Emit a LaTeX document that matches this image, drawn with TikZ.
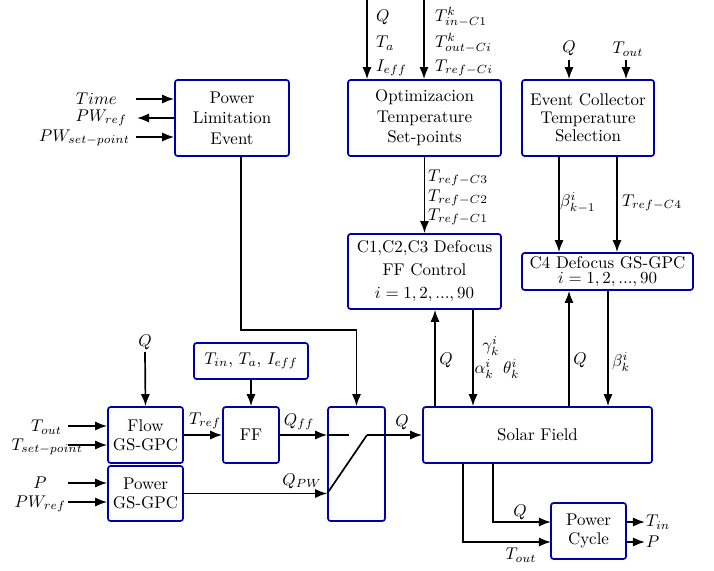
\documentclass[tikz,border=0pt]{standalone}
\usepackage{amsmath}
\usepackage{amssymb}
\usepackage{tikz}
\usetikzlibrary{arrows.meta, positioning}
\definecolor{boxblue}{RGB}{0,0,170}
\tikzstyle{arrow} = [line width=1pt, -{Latex[length=2.5mm, width=1.9mm]}]
\tikzstyle{line} = [line width=1pt]
\tikzstyle{block} = [draw=boxblue, line width=1pt, rounded corners=1.5pt, inner sep=0pt, align=center]
\tikzstyle{lbl} = [inner sep=0.5pt]
\tikzset{sz/.style 2 args={minimum width=#1*0.59pt, minimum height=#2*0.59pt}}

\begin{document}
\begin{tikzpicture}[x=0.59pt, y=-0.59pt]
    \useasboundingbox (0,0) rectangle (714,570);
    % blocks
    \node[block, sz={114}{76}] (ple) at (232,118) {Power\\Limitation\\Event};
    \node[block, sz={153}{76}] (opt) at (424.5,118) {Optimizacion\\Temperature\\Set-points};
    \node[block, sz={132}{76}] (evc) at (588,118) {Event Collector\\[-1.5pt]Temperature\\[-1.5pt]Selection};
    \node[block, sz={153}{75}] (cdf) at (424.5,271.5) {C1,C2,C3 Defocus\\[1.6pt]FF Control\\[1.6pt]$i=1,2,...,90$};
    \node[block, sz={171}{37}] (cfour) at (607.5,271.5) {C4 Defocus GS-GPC\\[-3pt]$i=1,2,...,90$};
    \node[block, sz={229}{56}] (solar) at (537.5,435) {Solar Field};
    \node[block, sz={75}{56}] (cycle) at (588.5,531) {Power\\[-1pt]Cycle};
    \node[block, sz={75}{56}] (flow) at (145.5,435) {Flow\\[-1pt]GS-GPC};
    \node[block, sz={75}{55}] (pgpc) at (145.5,493.5) {Power\\[-1pt]GS-GPC};
    \node[block, sz={56}{56}] (ffb) at (251,435) {FF};
    \node[block, sz={114}{36}] (tin) at (251,361) {$T_{in}$, $T_a$, $I_{eff}$};
    \node[block, sz={57}{114}] (sw) at (356.5,464) {};

    % free ends
    \coordinate (inOa) at (367,0);
    \coordinate (inOb) at (424,0);
    \coordinate (inEa) at (569,60);
    \coordinate (inEb) at (626,60);
    \coordinate (xEa) at (559,0);
    \coordinate (xEb) at (617,0);
    \coordinate (xCa) at (435,0);
    \coordinate (xCb) at (473,0);
    \coordinate (xDa) at (569,0);
    \coordinate (xDb) at (608,0);
    \coordinate (xSa) at (463,0);
    \coordinate (xSb) at (493,0);
    \coordinate (cyQ) at (551,522);
    \coordinate (cyT) at (551,542);
    \coordinate (outTin) at (645,522);
    \coordinate (outP) at (645,542);
    \coordinate (plA) at (241,330);
    \coordinate (flQ) at (145,352);
    \coordinate (swA) at (349,435);
    \coordinate (swB) at (367,435);
    \coordinate (inTime) at (136,99);
    \coordinate (outPWr) at (137,118);
    \coordinate (inPWs) at (136,137);
    \coordinate (inTo) at (68,426);
    \coordinate (inTs) at (68,445);
    \coordinate (inP) at (68,483);
    \coordinate (inPWf) at (68,502);

    % power limitation event
    \draw[arrow] (inTime) -- (inTime -| ple.west);
    \draw[arrow] (outPWr -| ple.west) -- (outPWr);
    \draw[arrow] (inPWs) -- (inPWs -| ple.west);
    \node[lbl, anchor=east] (lTime) at (118,99) {$Time$};
    \node[lbl, anchor=east] (lPWr) at (128,118) {$PW_{ref}$};
    \node[lbl, anchor=east] (lPWs) at (131,138) {$PW_{set-point}$};
    \draw[arrow] (plA |- ple.south) -- (plA) -- (plA -| sw.north) -- (sw.north);

    % optimization
    \draw[arrow] (inOa) -- (inOa |- opt.north);
    \draw[arrow] (inOb) -- (inOb |- opt.north);
    \node[lbl, anchor=west] (lQo) at (375,17) {$Q$};
    \node[lbl, anchor=west] (lTa) at (375,43) {$T_a$};
    \node[lbl, anchor=west] (lIe) at (375,68) {$I_{eff}$};
    \node[lbl, anchor=west] (lTk1) at (434,17) {$T^k_{in-C1}$};
    \node[lbl, anchor=west] (lTk2) at (434,43) {$T^k_{out-Ci}$};
    \node[lbl, anchor=west] (lTk3) at (434,68) {$T_{ref-Ci}$};
    \draw[arrow] (opt.south) -- (cdf.north);
    \node[lbl, anchor=west] (lR3) at (427,178) {$T_{ref-C3}$};
    \node[lbl, anchor=west] (lR2) at (427,198) {$T_{ref-C2}$};
    \node[lbl, anchor=west] (lR1) at (427,217) {$T_{ref-C1}$};

    % event collector
    \draw[arrow] (inEa) -- (inEa |- evc.north);
    \draw[arrow] (inEb) -- (inEb |- evc.north);
    \node[lbl] (lQe) at (569,48) {$Q$};
    \node[lbl] (lToe) at (628,49) {$T_{out}$};
    \draw[arrow] (xEa |- evc.south) -- (xEa |- cfour.north);
    \draw[arrow] (xEb |- evc.south) -- (xEb |- cfour.north);
    \node[lbl, anchor=west] (lbk) at (559,203) {$\beta^i_{k-1}$};
    \node[lbl, anchor=west] (lR4) at (621,203) {$T_{ref-C4}$};

    % defocus loops
    \draw[arrow] (xCa |- solar.north) -- (xCa |- cdf.south);
    \draw[arrow] (xCb |- cdf.south) -- (xCb |- solar.north);
    \node[lbl] (lQc) at (446,360) {$Q$};
    \node[lbl] (lgk) at (491,346) {$\gamma^i_k$};
    \node[lbl] (lak) at (497,369) {$\alpha^i_k\;\;\theta^i_k$};
    \draw[arrow] (xDa |- solar.north) -- (xDa |- cfour.south);
    \draw[arrow] (xDb |- cfour.south) -- (xDb |- solar.north);
    \node[lbl] (lQd) at (580,360) {$Q$};
    \node[lbl] (lbi) at (621,362) {$\beta^i_k$};

    % power cycle
    \draw[arrow] (xSb |- solar.south) |- (cyQ);
    \draw[arrow] (xSa |- solar.south) |- (cyT);
    \node[lbl] (lQp) at (520,512) {$Q$};
    \node[lbl] (lTop) at (521,555) {$T_{out}$};
    \draw[arrow] (cyQ -| cycle.east) -- (outTin);
    \draw[arrow] (cyT -| cycle.east) -- (outP);
    \node[lbl, anchor=west] (lTin) at (outTin) {$T_{in}$};
    \node[lbl, anchor=west] (lP) at (outP) {$P$};

    % flow and power controllers
    \draw[arrow] (flQ) -- (flow.north);
    \node[lbl] (lQf) at (145,342) {$Q$};
    \draw[arrow] (inTo) -- (inTo -| flow.west);
    \draw[arrow] (inTs) -- (inTs -| flow.west);
    \draw[arrow] (inP) -- (inP -| pgpc.west);
    \draw[arrow] (inPWf) -- (inPWf -| pgpc.west);
    \node[lbl, anchor=east] (lTo) at (63,427) {$T_{out}$};
    \node[lbl, anchor=east] (lTs) at (84,447) {$T_{set-point}$};
    \node[lbl] (lP2) at (40,483) {$P$};
    \node[lbl, anchor=east] (lPWf) at (67,504) {$PW_{ref}$};
    \draw[arrow] (flow.east) -- (ffb.west);
    \node[lbl] (lTr) at (205,421) {$T_{ref}$};
    \draw[arrow] (tin.south) -- (ffb.north);

    % switch
    \draw[arrow] (ffb.east) -- (ffb.east -| sw.west);
    \node[lbl] (lQff) at (299,422) {$Q_{ff}$};
    \draw[line] (ffb.east -| sw.west) -- (swA);
    \draw[arrow] (pgpc.east) -- (pgpc.east -| sw.west);
    \node[lbl] (lQpw) at (302,481) {$Q_{PW}$};
    \draw[line] (pgpc.east -| sw.west) -- (swB);
    \draw[arrow] (swB) -- (solar.west);
    \node[lbl] (lQs) at (402,422) {$Q$};
  \end{tikzpicture}
\end{document}
